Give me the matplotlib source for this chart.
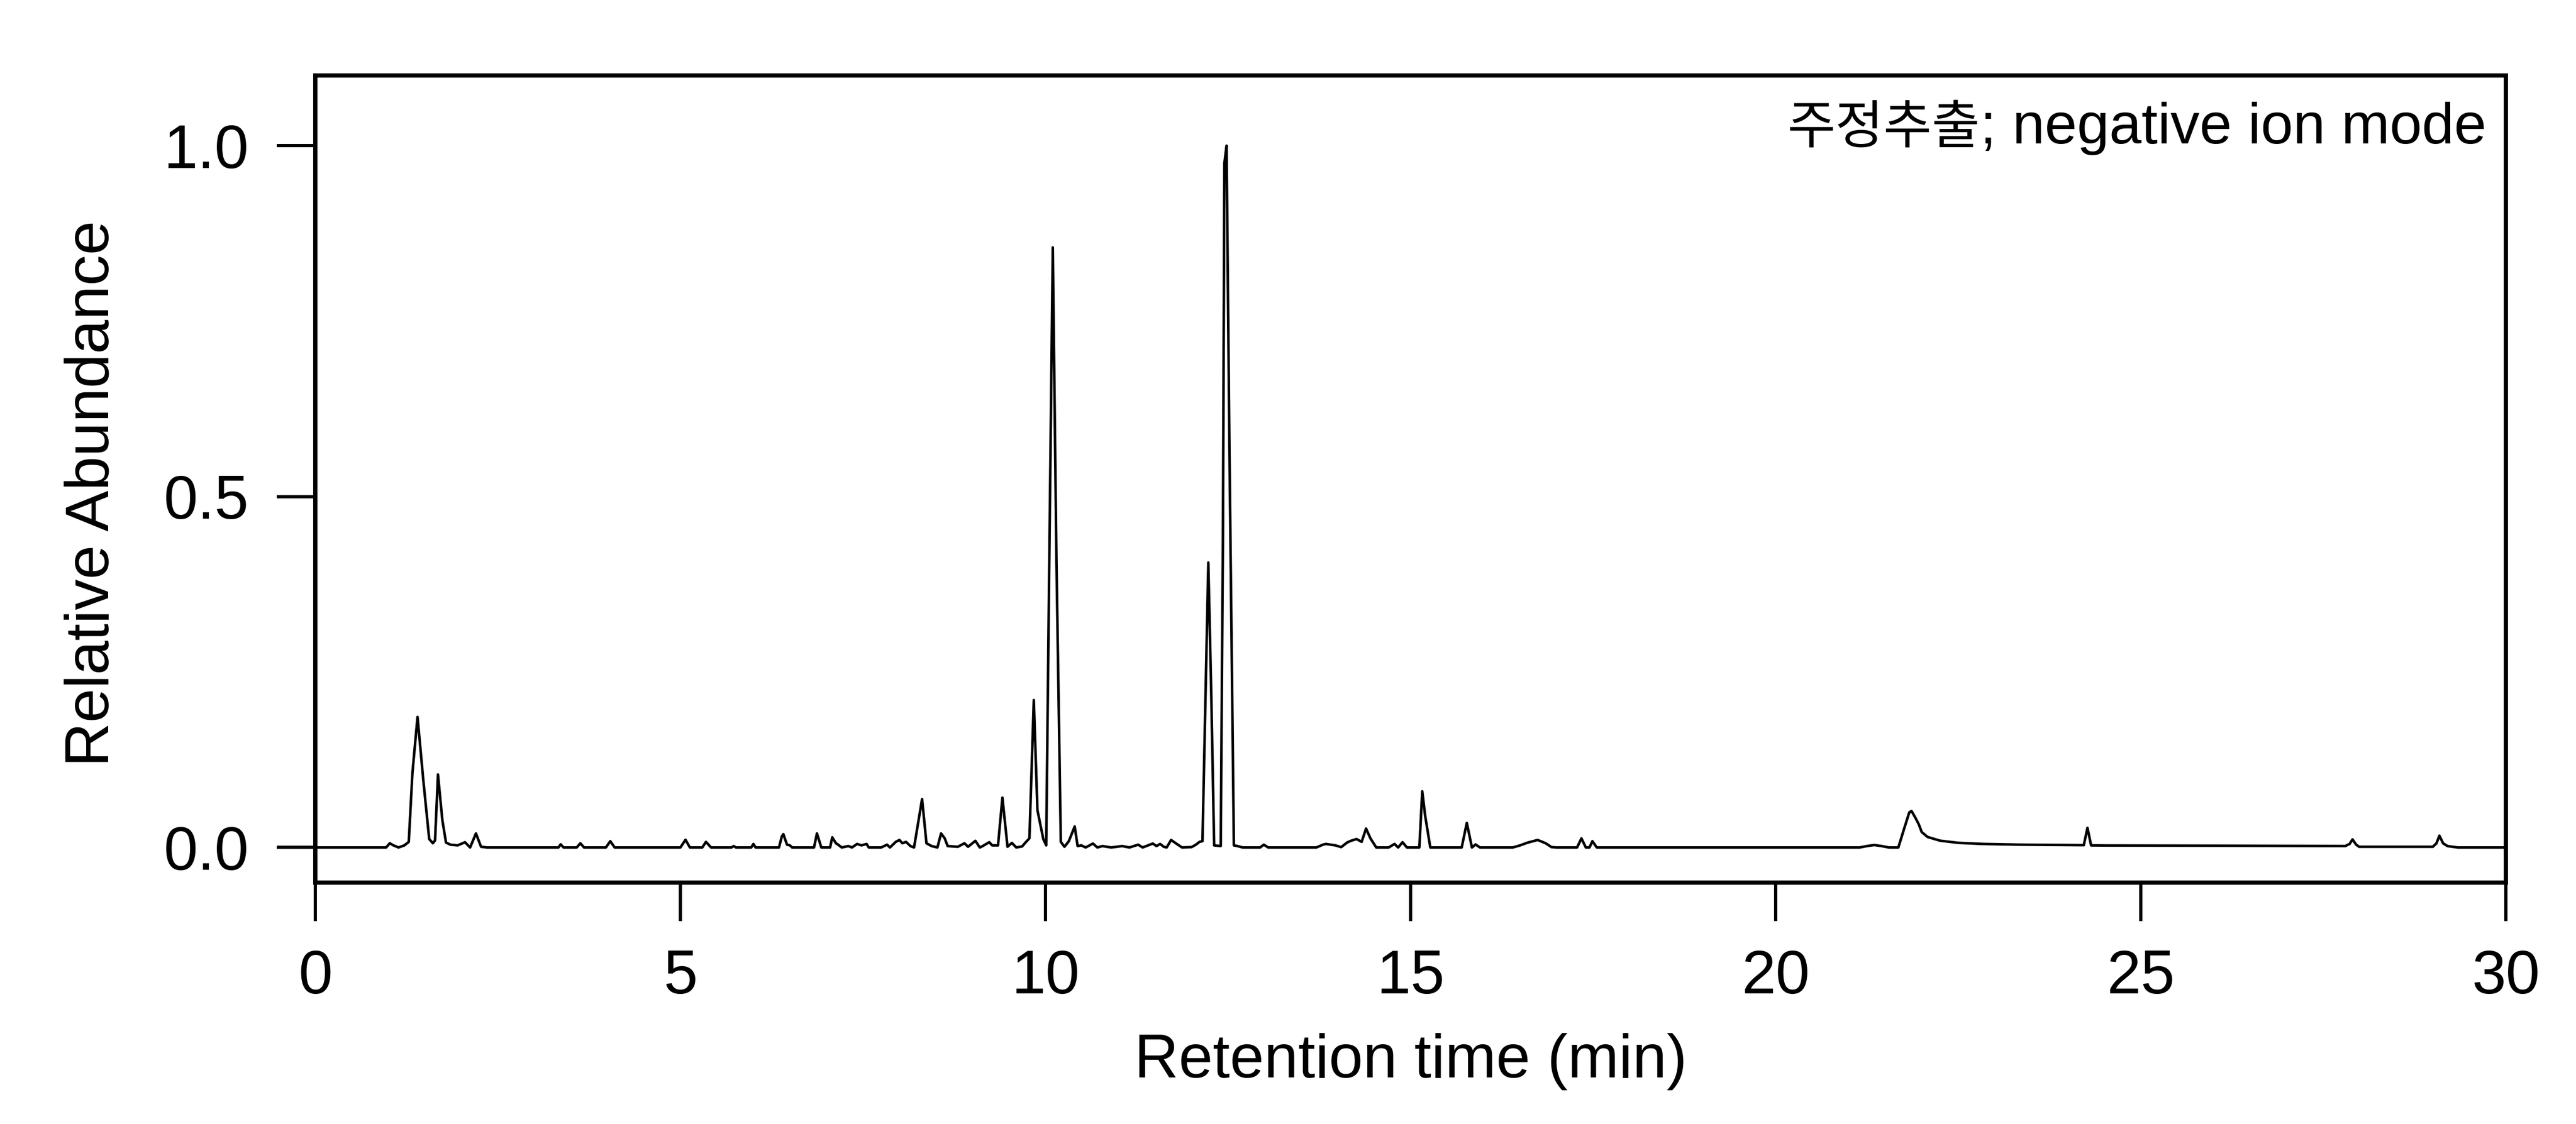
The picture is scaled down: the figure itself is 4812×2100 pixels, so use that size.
import matplotlib
matplotlib.use('Agg')
import matplotlib.pyplot as plt

# Trace vertices (retention time in min, relative abundance)
rt_min = [
    0.00, 0.97, 1.02, 1.07, 1.14, 1.22, 1.28, 1.33, 1.40, 1.48, 1.56, 1.61, 1.64, 1.68, 1.74,
    1.79, 1.85, 1.95, 2.05, 2.12, 2.20, 2.27, 2.35, 3.33, 3.36, 3.40, 3.58, 3.63, 3.68, 3.98,
    4.04, 4.10, 5.00, 5.07, 5.13, 5.30, 5.35, 5.42, 5.70, 5.73, 5.76, 5.97, 6.00, 6.03, 6.35,
    6.39, 6.41, 6.46, 6.50, 6.53, 6.83, 6.87, 6.93, 7.05, 7.08, 7.13, 7.16, 7.21, 7.30, 7.35,
    7.42, 7.48, 7.55, 7.58, 7.75, 7.83, 7.87, 7.95, 8.00, 8.04, 8.09, 8.15, 8.20, 8.31, 8.37,
    8.44, 8.52, 8.57, 8.62, 8.66, 8.80, 8.89, 8.94, 9.04, 9.10, 9.14, 9.23, 9.27, 9.35, 9.41,
    9.48, 9.54, 9.60, 9.68, 9.73, 9.78, 9.84, 9.89, 9.97, 10.01, 10.05, 10.10, 10.15, 10.21,
    10.26, 10.32, 10.40, 10.44, 10.49, 10.55, 10.65, 10.71, 10.78, 10.90, 11.05, 11.15, 11.27,
    11.33, 11.47, 11.52, 11.57, 11.62, 11.66, 11.72, 11.79, 11.87, 12.00, 12.06, 12.11, 12.15,
    12.23, 12.27, 12.31, 12.40, 12.43, 12.45, 12.48, 12.52, 12.58, 12.63, 12.70, 12.94, 12.99,
    13.05, 13.71, 13.80, 13.84, 13.97, 14.05, 14.13, 14.18, 14.26, 14.33, 14.39, 14.45, 14.53,
    14.70, 14.78, 14.83, 14.89, 14.95, 15.12, 15.16, 15.20, 15.27, 15.70, 15.77, 15.84, 15.89,
    15.95, 16.40, 16.50, 16.60, 16.74, 16.85, 16.93, 17.00, 17.28, 17.34, 17.40, 17.45, 17.49,
    17.55, 21.15, 21.25, 21.35, 21.45, 21.55, 21.68, 21.76, 21.83, 21.86, 21.91, 21.96, 22.00,
    22.08, 22.25, 22.50, 22.84, 23.34, 24.22, 24.27, 24.32, 24.52, 26.20, 27.80, 27.86, 27.90,
    27.95, 27.99, 29.00, 29.05, 29.09, 29.14, 29.20, 29.34, 30.00,
]
rel_abundance = [
    0.0, 0.0, 0.006, 0.003, 0.0, 0.003, 0.008, 0.106, 0.186, 0.095, 0.012, 0.006, 0.010, 0.104, 0.039,
    0.007, 0.004, 0.003, 0.0075, 0.0, 0.020, 0.001, 0.0, 0.0, 0.0045, 0.0, 0.0, 0.006, 0.0, 0.0,
    0.009, 0.0, 0.0, 0.011, 0.0, 0.0, 0.008, 0.0, 0.0, 0.002, 0.0, 0.0, 0.005, 0.0, 0.0,
    0.016, 0.019, 0.004, 0.003, 0.0, 0.0, 0.020, 0.0, 0.0, 0.0145, 0.006, 0.004, 0.0, 0.002, 0.0,
    0.005, 0.003, 0.005, 0.0, 0.0, 0.004, 0.0, 0.008, 0.0107, 0.006, 0.008, 0.002, 0.0, 0.069, 0.006,
    0.002, 0.0, 0.020, 0.013, 0.002, 0.001, 0.006, 0.001, 0.0095, 0.0, 0.002, 0.0075, 0.003, 0.003, 0.071,
    0.001, 0.0065, 0.0, 0.0015, 0.0075, 0.013, 0.21, 0.053, 0.012, 0.003, 0.39, 0.855, 0.41, 0.008,
    0.001, 0.009, 0.030, 0.002, 0.003, 0.0, 0.0056, 0.0, 0.002, 0.0, 0.002, 0.0, 0.004,
    0.0, 0.0056, 0.002, 0.005, 0.001, 0.0, 0.0107, 0.0056, 0.0, 0.0005, 0.004, 0.008, 0.009,
    0.406, 0.22, 0.003, 0.002, 0.44, 0.975, 1.0, 0.56, 0.003, 0.002, 0.0, 0.0, 0.004,
    0.0, 0.0, 0.004, 0.005, 0.003, 0.0005, 0.007, 0.0094, 0.012, 0.008, 0.027, 0.013, 0.0,
    0.0, 0.005, 0.0, 0.0075, 0.0, 0.0, 0.080, 0.045, 0.0, 0.0, 0.035, 0.0, 0.0043,
    0.0, 0.0, 0.003, 0.0068, 0.0107, 0.006, 0.0005, 0.0, 0.0, 0.013, 0.0, 0.0, 0.009,
    0.0, 0.0, 0.002, 0.0035, 0.002, 0.0, 0.0, 0.027, 0.050, 0.052, 0.043, 0.033, 0.022,
    0.015, 0.0097, 0.0066, 0.005, 0.004, 0.0033, 0.028, 0.003, 0.0028, 0.0025, 0.002, 0.005, 0.0115,
    0.004, 0.001, 0.001, 0.006, 0.0168, 0.006, 0.002, 0.0, 0.0,
]

x_ticks = [0, 5, 10, 15, 20, 25, 30]
y_ticks = [0.0, 0.5, 1.0]
y_tick_labels = ['0.0', '0.5', '1.0']
note_kr = '주정추출'
note_en = '; negative ion mode'

plt.rcParams['font.family'] = ['Liberation Sans', 'Noto Sans CJK KR', 'DejaVu Sans']

fig = plt.figure(figsize=(4812 / 300, 2100 / 300), dpi=300)
ax = fig.add_axes([0.1224, 0.2148, 0.97277 - 0.1224, 0.93286 - 0.2148])

ax.plot(rt_min, rel_abundance, color='black', linewidth=1.15)

ax.set_xlim(0, 30)
ax.set_ylim(-0.05, 1.10)
ax.set_xticks(x_ticks)
ax.set_xticklabels([str(t) for t in x_ticks])
ax.set_yticks(y_ticks)
ax.set_yticklabels(y_tick_labels)

for sp in ax.spines.values():
    sp.set_linewidth(1.9)
ax.tick_params(direction='out', length=17.3, width=1.45, pad=12.5, labelsize=27.5, color='black')

ax.set_xlabel('Retention time (min)', fontsize=27.5, labelpad=12)
ax.set_ylabel('Relative Abundance', fontsize=27.5, labelpad=19)
ax.yaxis.label.set_y(0.482)  # label sits a little below the axes centre

# annotation: latin part anchored at the right, korean part placed just left of it
t_en = ax.text(0.991, 0.9158, note_en, transform=ax.transAxes, ha='right', va='baseline',
               fontsize=26, family='Liberation Sans')
fig.canvas.draw()
x0 = t_en.get_window_extent().x0
x0_ax = ax.transAxes.inverted().transform((x0, 0))[0]
ax.text(x0_ax, 0.9158, note_kr, transform=ax.transAxes, ha='right', va='baseline',
        fontsize=23.5, family=['Noto Sans CJK KR', 'Liberation Sans'])

fig.savefig('out.png', dpi=300)
